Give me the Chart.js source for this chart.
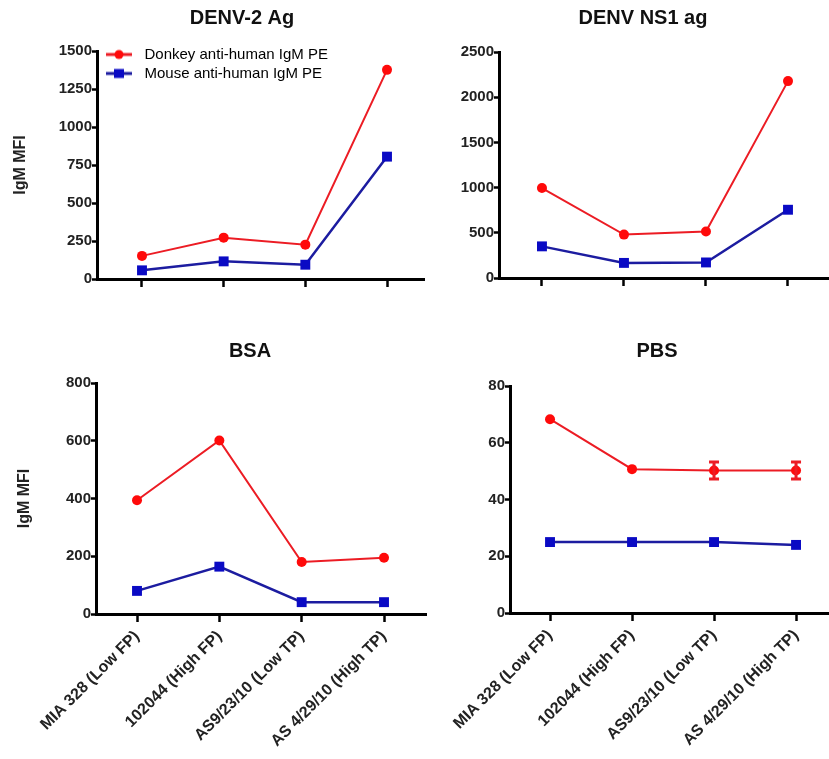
<!DOCTYPE html>
<html>
<head>
<meta charset="utf-8">
<script src="https://cdn.jsdelivr.net/npm/chart.js@4.4.1/dist/chart.umd.min.js"></script>
<style>
    html, body { margin: 0; padding: 0; background: #fff; overflow: hidden; width: 829px; height: 759px; }
    canvas { position: absolute; }
</style>
</head>
<body>
<canvas id="denv2-chart" width="484" height="300" style="left:0px;top:0px"></canvas>
<canvas id="ns1-chart" width="386" height="300" style="left:450px;top:0px"></canvas>
<canvas id="bsa-chart" width="500" height="459" style="left:0px;top:300px"></canvas>
<canvas id="pbs-chart" width="494" height="459" style="left:410px;top:300px"></canvas>

<script>
// Datos
var categorias = ['MIA 328 (Low FP)', '102044 (High FP)', 'AS9/23/10 (Low TP)', 'AS 4/29/10 (High TP)'];
var series_nombres = ['Donkey anti-human IgM PE', 'Mouse anti-human IgM PE'];

var denv2_donkey = [152, 272, 226, 1376];
var denv2_mouse = [57, 116, 94, 805];
var ns1_donkey = [995, 480, 515, 2178];
var ns1_mouse = [350, 167, 172, 755];
var bsa_donkey = [394, 601, 180, 195];
var bsa_mouse = [80, 164, 41, 41];
var pbs_donkey = [68.3, 50.7, 50.2, 50.2];
var pbs_donkey_err = [0, 0, 3, 3];
var pbs_mouse = [25, 25, 25, 24];

var ticks_denv2 = [0, 250, 500, 750, 1000, 1250, 1500];
var ticks_ns1 = [0, 500, 1000, 1500, 2000, 2500];
var ticks_bsa = [0, 200, 400, 600, 800];
var ticks_pbs = [0, 20, 40, 60, 80];

var rojo_linea = '#ec1c24';
var rojo_punto = '#ff0a0a';
var azul_linea = '#1c1ca0';
var azul_punto = '#0a0ac4';

Chart.defaults.font.family = '"Liberation Sans", Arial, sans-serif';
Chart.defaults.color = '#222';

// Icono de la leyenda: linea con el marcador encima
function icono_leyenda(color_linea, color_punto, forma) {
    const c = document.createElement('canvas');
    c.width = 26;
    c.height = 12;
    const g = c.getContext('2d');
    g.strokeStyle = color_linea;
    g.lineWidth = 3;
    g.beginPath();
    g.moveTo(0, 6);
    g.lineTo(26, 6);
    g.stroke();
    g.fillStyle = color_punto;
    if (forma === 'circle') {
        g.beginPath();
        g.arc(13, 6, 4.5, 0, Math.PI * 2);
        g.fill();
    } else {
        g.fillRect(8, 1.5, 10, 9);
    }
    return c;
}
var iconos = [icono_leyenda(rojo_linea, rojo_punto, 'circle'), icono_leyenda(azul_linea, azul_punto, 'rect')];

// Barras de error (solo PBS)
const barras_error = {
    id: 'barrasError',
    afterDatasetsDraw(chart) {
        const ctx = chart.ctx;
        const escala_y = chart.scales.y;
        chart.data.datasets.forEach((ds, di) => {
            if (!ds.errores) return;
            const meta = chart.getDatasetMeta(di);
            ctx.save();
            ctx.strokeStyle = ds.borderColor;
            ctx.lineWidth = 3;
            meta.data.forEach((pt, i) => {
                const e = ds.errores[i];
                if (!e) return;
                const v = ds.data[i].y;
                const arriba = escala_y.getPixelForValue(v + e);
                const abajo = escala_y.getPixelForValue(v - e);
                ctx.beginPath();
                ctx.moveTo(pt.x, arriba); ctx.lineTo(pt.x, abajo);
                ctx.moveTo(pt.x - 5, arriba); ctx.lineTo(pt.x + 5, arriba);
                ctx.moveTo(pt.x - 5, abajo); ctx.lineTo(pt.x + 5, abajo);
                ctx.stroke();
            });
            ctx.restore();
        });
    }
};

function puntos(valores) {
    return valores.map((v, i) => ({ x: i, y: v }));
}

function crear_panel(id, titulo, donkey, mouse, ticks_y, o) {
    const ctx = document.getElementById(id).getContext('2d');

    // Centra el titulo y coloca la leyenda dentro del area del grafico
    const ajustar_cajas = {
        id: 'ajustarCajas',
        afterLayout(chart) {
            const t = chart.titleBlock;
            const mitad = (t.right - t.left) / 2;
            t.left = o.centro_titulo - mitad;
            t.right = o.centro_titulo + mitad;
            if (chart.legend && o.leyenda) {
                chart.legend.left = chart.chartArea.left;
                chart.legend.top = chart.chartArea.top - 8;
            }
        }
    };

    return new Chart(ctx, {
        type: 'line',
        data: {
            datasets: [{
                label: series_nombres[0],
                data: puntos(donkey),
                errores: o.errores || null,
                borderColor: rojo_linea,
                backgroundColor: rojo_punto,
                borderWidth: 2,
                pointStyle: 'circle',
                pointRadius: 5,
                pointBorderWidth: 0,
                tension: 0
            }, {
                label: series_nombres[1],
                data: puntos(mouse),
                borderColor: azul_linea,
                backgroundColor: azul_punto,
                borderWidth: 2.5,
                pointStyle: 'rect',
                pointRadius: 7,
                pointBorderWidth: 0,
                tension: 0
            }]
        },
        options: {
            responsive: false,
            animation: false,
            layout: {
                autoPadding: false,
                padding: { left: 0, right: o.pad_der, top: 0, bottom: 0 }
            },
            plugins: {
                tooltip: { enabled: false },
                title: {
                    display: true,
                    text: titulo,
                    color: '#111',
                    font: { size: 20, weight: 'bold' },
                    padding: { top: o.pad_titulo[0], bottom: o.pad_titulo[1] }
                },
                legend: {
                    display: !!o.leyenda,
                    position: 'chartArea',
                    align: 'start',
                    labels: {
                        usePointStyle: true,
                        pointStyleWidth: 36,
                        padding: 4,
                        color: '#222',
                        font: { size: 15 },
                        generateLabels: (chart) => chart.data.datasets.map((ds, i) => ({
                            text: ds.label,
                            pointStyle: iconos[i],
                            datasetIndex: i,
                            hidden: false,
                            lineWidth: 0,
                            fillStyle: 'transparent',
                            strokeStyle: 'transparent'
                        }))
                    }
                }
            },
            scales: {
                x: {
                    type: 'linear',
                    min: o.xmin,
                    max: o.xmax,
                    afterBuildTicks: (s) => { s.ticks = categorias.map((c, i) => ({ value: i })); },
                    ticks: {
                        autoSkip: false,
                        minRotation: 45,
                        maxRotation: 45,
                        padding: 5,
                        color: '#222',
                        font: { size: 16, weight: 'bold' },
                        callback: (v) => o.etiquetas_x ? categorias[v] : ''
                    },
                    grid: { drawOnChartArea: false, drawTicks: true, tickLength: 8, tickWidth: 2.5, tickColor: '#000' },
                    border: { display: true, color: '#000', width: 3 },
                    afterFit: (s) => { s.height = o.alto_x; s.paddingLeft = 0; s.paddingRight = 0; }
                },
                y: {
                    min: 0,
                    max: ticks_y[ticks_y.length - 1],
                    afterBuildTicks: (s) => { s.ticks = ticks_y.map((v) => ({ value: v })); },
                    ticks: {
                        padding: 0,
                        color: '#222',
                        font: { size: 15, weight: 'bold' },
                        callback: (v) => String(v)
                    },
                    grid: { drawOnChartArea: false, drawTicks: true, tickLength: 5, tickWidth: 2.5, tickColor: '#000' },
                    border: { display: true, color: '#000', width: 3 },
                    title: {
                        display: !!o.titulo_y,
                        text: 'IgM MFI',
                        color: '#222',
                        font: { size: 16, weight: 'bold' },
                        padding: { top: o.pad_titulo_y || 0, bottom: 0 }
                    },
                    afterFit: (s) => { s.width = o.ancho_y; s.paddingTop = 0; s.paddingBottom = 0; }
                }
            }
        },
        plugins: [barras_error, ajustar_cajas]
    });
}

crear_panel('denv2-chart', 'DENV-2 Ag', denv2_donkey, denv2_mouse, ticks_denv2, {
    ancho_y: 97, alto_x: 21, pad_der: 60, pad_titulo: [6, 21], centro_titulo: 242,
    xmin: -0.551, xmax: 3.453, titulo_y: true, pad_titulo_y: 11, leyenda: true
});

crear_panel('ns1-chart', 'DENV NS1 ag', ns1_donkey, ns1_mouse, ticks_ns1, {
    ancho_y: 49, alto_x: 22, pad_der: 7, pad_titulo: [6, 22], centro_titulo: 193,
    xmin: -0.524, xmax: 3.5
});

crear_panel('bsa-chart', 'BSA', bsa_donkey, bsa_mouse, ticks_bsa, {
    ancho_y: 96, alto_x: 145, pad_der: 74, pad_titulo: [39, 20], centro_titulo: 250,
    xmin: -0.498, xmax: 3.51, titulo_y: true, pad_titulo_y: 15, etiquetas_x: true
});

crear_panel('pbs-chart', 'PBS', pbs_donkey, pbs_mouse, ticks_pbs, {
    ancho_y: 100, alto_x: 146, pad_der: 75, pad_titulo: [39, 23], centro_titulo: 247,
    xmin: -0.488, xmax: 3.402, etiquetas_x: true, errores: pbs_donkey_err
});
</script>
</body>
</html>
